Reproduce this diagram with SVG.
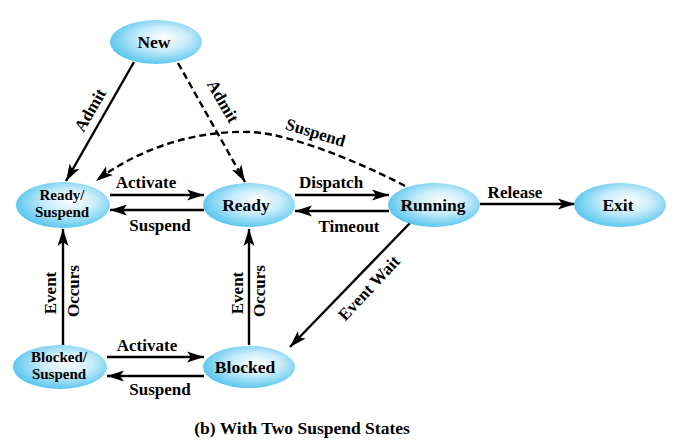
<svg xmlns="http://www.w3.org/2000/svg" width="681" height="445" viewBox="0 0 681 445">
<style>
.node ellipse{fill:url(#g);stroke:none}
.t{font-family:"Liberation Serif","Times New Roman",serif;font-weight:bold;fill:#000;text-anchor:middle}
.n{font-size:17.5px}
.s{font-size:15px}
.l{font-size:17px}
.c{font-size:17.5px}
.e{stroke:#000;stroke-width:2.4;fill:none;marker-end:url(#a)}
.d{stroke-dasharray:7,4}
</style>
<defs>
<radialGradient id="g" cx="0.55" cy="0.45" r="0.6" fx="0.6" fy="0.4">
<stop offset="0" stop-color="#ffffff"/>
<stop offset="0.45" stop-color="#c8ecfa"/>
<stop offset="1" stop-color="#4cc2ee"/>
</radialGradient>
<marker id="a" markerUnits="userSpaceOnUse" markerWidth="18" markerHeight="12" refX="17" refY="6" orient="auto">
<path d="M0,0.5 L17,6 L0,11.5 L4,6 z" fill="#000"/>
</marker>
</defs>
<rect width="681" height="445" fill="#fff"/>
<g id="connectors">
<line class="e" x1="134" y1="62" x2="66" y2="181"/>
<text class="t l" transform="translate(95,113) rotate(-60)">Admit</text>
<line class="e d" x1="178" y1="63" x2="245" y2="182"/>
<text class="t l" transform="translate(218,104) rotate(60)">Admit</text>
<path class="e d" d="M405,186 C385,175 300,134 250,132 C185,130 130,155 96,181"/>
<text class="t l" transform="translate(314,138) rotate(17)">Suspend</text>
<line class="e" x1="110" y1="195" x2="204" y2="195"/>
<text class="t l" x="146" y="188">Activate</text>
<line class="e" x1="204" y1="210" x2="110" y2="210"/>
<text class="t l" x="160" y="231">Suspend</text>
<line class="e" x1="295" y1="195" x2="389" y2="195"/>
<text class="t l" x="331" y="188">Dispatch</text>
<line class="e" x1="389" y1="211" x2="295" y2="211"/>
<text class="t l" x="349" y="232">Timeout</text>
<line class="e" x1="480" y1="204" x2="575" y2="204"/>
<text class="t l" x="515" y="198">Release</text>
<line class="e" x1="410" y1="223" x2="290" y2="347"/>
<text class="t l" transform="translate(373,292) rotate(-47)">Event Wait</text>
<line class="e" x1="63" y1="345" x2="63" y2="229"/>
<text class="t l" transform="translate(56,293) rotate(-90)">Event</text>
<text class="t l" transform="translate(79,291) rotate(-90)">Occurs</text>
<line class="e" x1="249" y1="345" x2="249" y2="229"/>
<text class="t l" transform="translate(243,293) rotate(-90)">Event</text>
<text class="t l" transform="translate(265,291) rotate(-90)">Occurs</text>
<line class="e" x1="107" y1="357" x2="204" y2="357"/>
<text class="t l" x="147" y="351">Activate</text>
<line class="e" x1="204" y1="376" x2="107" y2="376"/>
<text class="t l" x="160" y="395">Suspend</text>
</g>
<g id="new" class="node"><ellipse cx="156" cy="42" rx="46" ry="22"/><text class="t n" x="154" y="48">New</text></g>
<g id="ready-suspend" class="node"><ellipse cx="63" cy="205" rx="47" ry="23"/><text class="t s" x="62" y="200">Ready/</text><text class="t s" x="62" y="217">Suspend</text></g>
<g id="ready" class="node"><ellipse cx="249" cy="205" rx="46" ry="22"/><text class="t n" x="246" y="211">Ready</text></g>
<g id="running" class="node"><ellipse cx="434" cy="205" rx="46" ry="22"/><text class="t n" x="433" y="211">Running</text></g>
<g id="exit" class="node"><ellipse cx="620" cy="205" rx="46" ry="22"/><text class="t n" x="618" y="211">Exit</text></g>
<g id="blocked-suspend" class="node"><ellipse cx="60" cy="367" rx="47" ry="22"/><text class="t s" x="59" y="362">Blocked/</text><text class="t s" x="59" y="379">Suspend</text></g>
<g id="blocked" class="node"><ellipse cx="249" cy="367" rx="46" ry="21"/><text class="t n" x="245" y="373">Blocked</text></g>
<text class="t c" x="302" y="434">(b) With Two Suspend States</text>
</svg>
